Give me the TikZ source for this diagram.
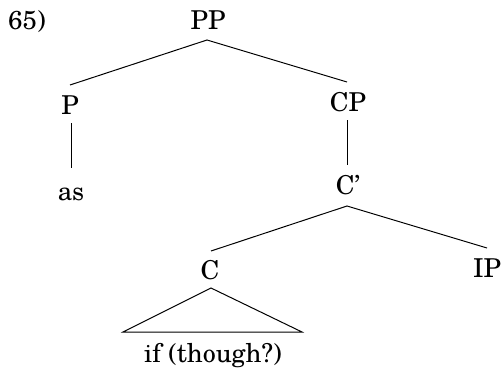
\documentclass[tikz,border=0pt]{standalone}
\usepackage{fontspec}
\setmainfont{TeX Gyre Schola}
\begin{document}
\begin{tikzpicture}[x=1pt,y=-1pt,
  lbl/.style={anchor=base,inner sep=0pt,font=\fontsize{26}{30}\selectfont},
  edge/.style={line width=1pt}]
\useasboundingbox (0,0) rectangle (503,369);
\node[lbl,anchor=base west] (num) at (8,30) {65)};
\node[lbl] (PP) at (208,30) {PP};
\node[lbl] (P) at (70,114) {P};
\node[lbl] (CP) at (348,111) {CP};
\node[lbl] (as) at (71,200) {as};
\node[lbl] (Cbar) at (348,194) {C’};
\node[lbl] (C) at (210,279) {C};
\node[lbl] (IP) at (487,277) {IP};
\node[lbl] (if) at (213,362) {if (though?)};
\coordinate (PPs) at (207,40);
\coordinate (Pn) at (70,85);
\coordinate (CPn) at (347,82);
\coordinate (Ps) at (71,123);
\coordinate (asn) at (71,168);
\coordinate (CPs) at (347,120);
\coordinate (Cbarn) at (347,165);
\coordinate (Cbars) at (347,206);
\coordinate (Cn) at (211,251);
\coordinate (IPn) at (487,248);
\coordinate (Ts) at (211,288);
\coordinate (Tl) at (123,332);
\coordinate (Tr) at (302,332);
\draw[edge] (Pn) -- (PPs) -- (CPn);
\draw[edge] (Ps) -- (asn);
\draw[edge] (CPs) -- (Cbarn);
\draw[edge] (Cn) -- (Cbars) -- (IPn);
\draw[edge] (Ts) -- (Tl) -- (Tr) -- cycle;
\end{tikzpicture}
\end{document}
